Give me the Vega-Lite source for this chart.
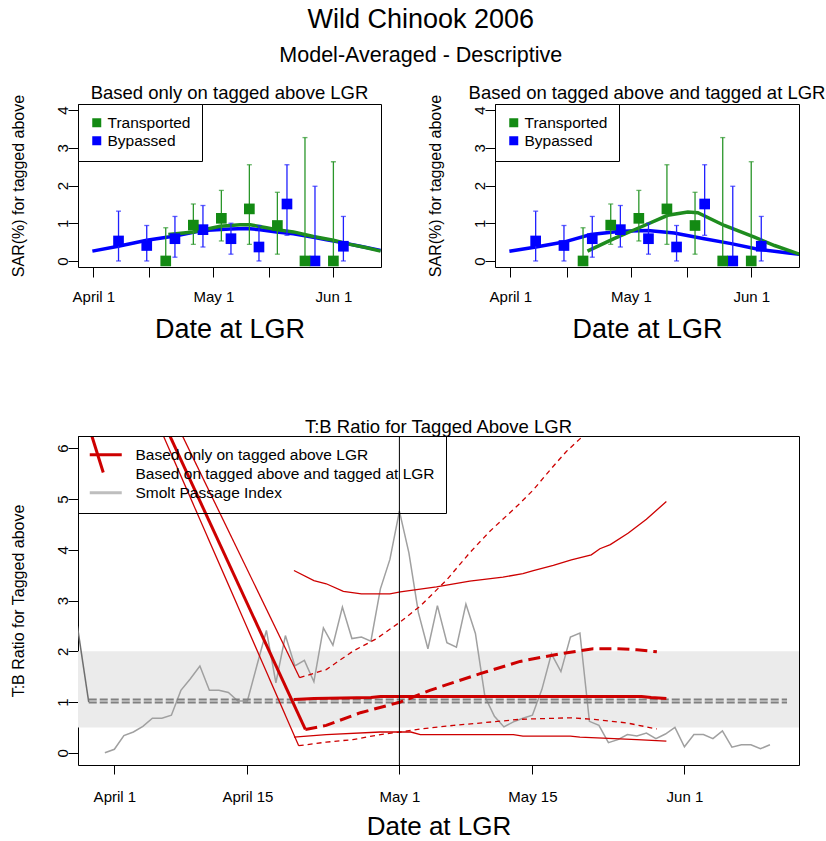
{
  "$schema": "https://vega.github.io/schema/vega-lite/v6.json",
  "background": "white",
  "padding": {"left": 9, "top": 5, "right": 0, "bottom": 0},
  "config": {
    "font": "Liberation Sans",
    "view": {"stroke": "black", "strokeWidth": 1},
    "axis": {"domain": false, "grid": false, "tickColor": "black", "labelColor": "black", "titleColor": "black", "labelFontSize": 15, "labelFont": "Liberation Sans", "titleFont": "Liberation Sans", "titleFontWeight": "normal", "tickSize": 10},
    "title": {"font": "Liberation Sans", "fontWeight": "normal", "color": "black"}
  },
  "title": {"text": "Wild Chinook 2006", "subtitle": "Model-Averaged - Descriptive", "fontSize": 27, "subtitleFontSize": 21.5, "subtitleFont": "Liberation Sans", "subtitleColor": "black", "anchor": "middle", "subtitlePadding": 11, "offset": 16, "dx": 3},
  "datasets": {
    "points": [
      {"group": "Bypassed", "day": 6.3, "est": 0.53, "lo": 0, "hi": 1.32},
      {"group": "Bypassed", "day": 13.35, "est": 0.41, "lo": 0, "hi": 0.94},
      {"group": "Bypassed", "day": 20.4, "est": 0.59, "lo": 0.10, "hi": 1.18},
      {"group": "Bypassed", "day": 27.4, "est": 0.83, "lo": 0.37, "hi": 1.47},
      {"group": "Bypassed", "day": 34.4, "est": 0.59, "lo": 0.18, "hi": 1.00},
      {"group": "Bypassed", "day": 41.4, "est": 0.37, "lo": 0, "hi": 0.94},
      {"group": "Bypassed", "day": 48.4, "est": 1.51, "lo": 0.68, "hi": 2.55},
      {"group": "Bypassed", "day": 55.4, "est": 0, "lo": 0, "hi": 1.98},
      {"group": "Bypassed", "day": 62.5, "est": 0.39, "lo": 0, "hi": 1.18},
      {"group": "Transported", "day": 18.1, "est": 0, "lo": 0, "hi": 0.88},
      {"group": "Transported", "day": 25.0, "est": 0.95, "lo": 0.44, "hi": 1.51},
      {"group": "Transported", "day": 32.0, "est": 1.13, "lo": 0.53, "hi": 1.87},
      {"group": "Transported", "day": 39.0, "est": 1.38, "lo": 0.44, "hi": 2.55},
      {"group": "Transported", "day": 46.0, "est": 0.94, "lo": 0.18, "hi": 1.82},
      {"group": "Transported", "day": 52.9, "est": 0, "lo": 0, "hi": 3.27},
      {"group": "Transported", "day": 60.0, "est": 0, "lo": 0, "hi": 2.63}
    ],
    "curves": [
      {"panel": "only", "group": "Bypassed", "day": -0.24, "val": 0.26},
      {"panel": "only", "group": "Bypassed", "day": 6.25, "val": 0.39},
      {"panel": "only", "group": "Bypassed", "day": 13.35, "val": 0.55},
      {"panel": "only", "group": "Bypassed", "day": 20.4, "val": 0.66},
      {"panel": "only", "group": "Bypassed", "day": 27.5, "val": 0.81},
      {"panel": "only", "group": "Bypassed", "day": 34.2, "val": 0.85},
      {"panel": "only", "group": "Bypassed", "day": 38.3, "val": 0.86},
      {"panel": "only", "group": "Bypassed", "day": 41.7, "val": 0.83},
      {"panel": "only", "group": "Bypassed", "day": 45.8, "val": 0.77},
      {"panel": "only", "group": "Bypassed", "day": 50.0, "val": 0.72},
      {"panel": "only", "group": "Bypassed", "day": 55.0, "val": 0.63},
      {"panel": "only", "group": "Bypassed", "day": 58.3, "val": 0.56},
      {"panel": "only", "group": "Bypassed", "day": 62.5, "val": 0.48},
      {"panel": "only", "group": "Bypassed", "day": 66.7, "val": 0.39},
      {"panel": "only", "group": "Bypassed", "day": 71.8, "val": 0.28},
      {"panel": "only", "group": "Transported", "day": 18.75, "val": 0.70},
      {"panel": "only", "group": "Transported", "day": 25.0, "val": 0.77},
      {"panel": "only", "group": "Transported", "day": 31.7, "val": 0.92},
      {"panel": "only", "group": "Transported", "day": 36.7, "val": 0.96},
      {"panel": "only", "group": "Transported", "day": 39.2, "val": 0.96},
      {"panel": "only", "group": "Transported", "day": 43.3, "val": 0.88},
      {"panel": "only", "group": "Transported", "day": 45.8, "val": 0.83},
      {"panel": "only", "group": "Transported", "day": 50.0, "val": 0.77},
      {"panel": "only", "group": "Transported", "day": 55.0, "val": 0.65},
      {"panel": "only", "group": "Transported", "day": 60.0, "val": 0.55},
      {"panel": "only", "group": "Transported", "day": 64.2, "val": 0.44},
      {"panel": "only", "group": "Transported", "day": 68.3, "val": 0.35},
      {"panel": "only", "group": "Transported", "day": 71.8, "val": 0.26},
      {"panel": "both", "group": "Bypassed", "day": -0.25, "val": 0.26},
      {"panel": "both", "group": "Bypassed", "day": 6.4, "val": 0.37},
      {"panel": "both", "group": "Bypassed", "day": 13.3, "val": 0.50},
      {"panel": "both", "group": "Bypassed", "day": 20.0, "val": 0.70},
      {"panel": "both", "group": "Bypassed", "day": 27.5, "val": 0.79},
      {"panel": "both", "group": "Bypassed", "day": 34.2, "val": 0.81},
      {"panel": "both", "group": "Bypassed", "day": 40.8, "val": 0.74},
      {"panel": "both", "group": "Bypassed", "day": 48.3, "val": 0.59},
      {"panel": "both", "group": "Bypassed", "day": 55.0, "val": 0.46},
      {"panel": "both", "group": "Bypassed", "day": 61.7, "val": 0.31},
      {"panel": "both", "group": "Bypassed", "day": 72.3, "val": 0.17},
      {"panel": "both", "group": "Transported", "day": 19.2, "val": 0.26},
      {"panel": "both", "group": "Transported", "day": 25.8, "val": 0.59},
      {"panel": "both", "group": "Transported", "day": 32.5, "val": 0.90},
      {"panel": "both", "group": "Transported", "day": 39.2, "val": 1.21},
      {"panel": "both", "group": "Transported", "day": 44.2, "val": 1.30},
      {"panel": "both", "group": "Transported", "day": 46.7, "val": 1.28},
      {"panel": "both", "group": "Transported", "day": 53.3, "val": 0.94},
      {"panel": "both", "group": "Transported", "day": 60.8, "val": 0.63},
      {"panel": "both", "group": "Transported", "day": 65.8, "val": 0.41},
      {"panel": "both", "group": "Transported", "day": 72.3, "val": 0.17}
    ],
    "smolt": [
      {"day": -1, "val": 0.0}, {"day": 0, "val": 0.07}, {"day": 1, "val": 0.34}, {"day": 2, "val": 0.41},
      {"day": 3, "val": 0.52}, {"day": 4, "val": 0.68}, {"day": 5, "val": 0.68}, {"day": 6, "val": 0.74},
      {"day": 7, "val": 1.23}, {"day": 8, "val": 1.46}, {"day": 9, "val": 1.71}, {"day": 10, "val": 1.23},
      {"day": 11, "val": 1.23}, {"day": 12, "val": 1.19}, {"day": 13, "val": 1.02}, {"day": 14, "val": 1.02},
      {"day": 15, "val": 1.72}, {"day": 16, "val": 2.41}, {"day": 17, "val": 1.38}, {"day": 18, "val": 2.31},
      {"day": 19, "val": 1.71}, {"day": 20, "val": 1.82}, {"day": 21, "val": 1.40}, {"day": 22, "val": 2.46},
      {"day": 23, "val": 2.12}, {"day": 24, "val": 2.87}, {"day": 25, "val": 2.25}, {"day": 26, "val": 2.28},
      {"day": 27, "val": 2.20}, {"day": 28, "val": 3.23}, {"day": 29, "val": 3.81}, {"day": 30, "val": 4.76},
      {"day": 31, "val": 3.94}, {"day": 32, "val": 2.76}, {"day": 33, "val": 2.05}, {"day": 34, "val": 2.90},
      {"day": 35, "val": 2.17}, {"day": 36, "val": 2.08}, {"day": 37, "val": 2.93}, {"day": 38, "val": 2.35},
      {"day": 39, "val": 1.11}, {"day": 40, "val": 0.72}, {"day": 41, "val": 0.51}, {"day": 42, "val": 0.61},
      {"day": 43, "val": 0.68}, {"day": 44, "val": 0.74}, {"day": 45, "val": 1.25}, {"day": 46, "val": 1.95},
      {"day": 47, "val": 1.60}, {"day": 48, "val": 2.28}, {"day": 49, "val": 2.36}, {"day": 50, "val": 0.62},
      {"day": 51, "val": 0.54}, {"day": 52, "val": 0.20}, {"day": 53, "val": 0.26}, {"day": 54, "val": 0.36},
      {"day": 55, "val": 0.33}, {"day": 56, "val": 0.39}, {"day": 57, "val": 0.28}, {"day": 58, "val": 0.37},
      {"day": 59, "val": 0.50}, {"day": 60, "val": 0.12}, {"day": 61, "val": 0.36}, {"day": 62, "val": 0.36},
      {"day": 63, "val": 0.28}, {"day": 64, "val": 0.43}, {"day": 65, "val": 0.11}, {"day": 66, "val": 0.16},
      {"day": 67, "val": 0.16}, {"day": 68, "val": 0.08}, {"day": 69, "val": 0.16}
    ],
    "ref": [
      {"series": "a", "day": -2.7, "val": 1.05}, {"series": "a", "day": 70.8, "val": 1.05},
      {"series": "b", "day": -2.7, "val": 0.99}, {"series": "b", "day": 70.8, "val": 0.99}
    ],
    "greysteep": [
      {"day": -4.3, "val": 3.0}, {"day": -2.7, "val": 1.0}
    ],
    "tb": [
      {"series": "steep_thick", "style": "thick", "day": 3.97, "val": 7.0},
      {"series": "steep_thick", "style": "thick", "day": 20.1, "val": 0.46},
      {"series": "legend_slash", "style": "thick", "day": -3.64, "val": 7.0},
      {"series": "legend_slash", "style": "thick", "day": -1.17, "val": 5.52},
      {"series": "above_est", "style": "thick", "day": 18.9, "val": 1.05},
      {"series": "above_est", "style": "thick", "day": 21.0, "val": 1.07},
      {"series": "above_est", "style": "thick", "day": 24.0, "val": 1.08},
      {"series": "above_est", "style": "thick", "day": 27.0, "val": 1.09},
      {"series": "above_est", "style": "thick", "day": 28.0, "val": 1.11},
      {"series": "above_est", "style": "thick", "day": 40.0, "val": 1.11},
      {"series": "above_est", "style": "thick", "day": 50.0, "val": 1.11},
      {"series": "above_est", "style": "thick", "day": 55.5, "val": 1.11},
      {"series": "above_est", "style": "thick", "day": 56.5, "val": 1.09},
      {"series": "above_est", "style": "thick", "day": 58.1, "val": 1.07},
      {"series": "steep_lo", "style": "thin", "day": 3.39, "val": 7.0},
      {"series": "steep_lo", "style": "thin", "day": 19.4, "val": 0.14},
      {"series": "steep_hi", "style": "thin", "day": 5.2, "val": 7.0},
      {"series": "steep_hi", "style": "thin", "day": 19.5, "val": 1.48},
      {"series": "above_hi", "style": "thin", "day": 18.9, "val": 3.59},
      {"series": "above_hi", "style": "thin", "day": 21.0, "val": 3.39},
      {"series": "above_hi", "style": "thin", "day": 22.3, "val": 3.33},
      {"series": "above_hi", "style": "thin", "day": 24.1, "val": 3.18},
      {"series": "above_hi", "style": "thin", "day": 26.0, "val": 3.13},
      {"series": "above_hi", "style": "thin", "day": 29.0, "val": 3.13},
      {"series": "above_hi", "style": "thin", "day": 30.1, "val": 3.17},
      {"series": "above_hi", "style": "thin", "day": 33.9, "val": 3.27},
      {"series": "above_hi", "style": "thin", "day": 37.4, "val": 3.38},
      {"series": "above_hi", "style": "thin", "day": 40.9, "val": 3.46},
      {"series": "above_hi", "style": "thin", "day": 43.0, "val": 3.53},
      {"series": "above_hi", "style": "thin", "day": 44.1, "val": 3.59},
      {"series": "above_hi", "style": "thin", "day": 46.2, "val": 3.69},
      {"series": "above_hi", "style": "thin", "day": 48.1, "val": 3.80},
      {"series": "above_hi", "style": "thin", "day": 50.2, "val": 3.90},
      {"series": "above_hi", "style": "thin", "day": 51.1, "val": 4.02},
      {"series": "above_hi", "style": "thin", "day": 52.2, "val": 4.10},
      {"series": "above_hi", "style": "thin", "day": 54.1, "val": 4.33},
      {"series": "above_hi", "style": "thin", "day": 56.0, "val": 4.60},
      {"series": "above_hi", "style": "thin", "day": 58.1, "val": 4.95},
      {"series": "above_lo", "style": "thin", "day": 18.9, "val": 0.31},
      {"series": "above_lo", "style": "thin", "day": 22.3, "val": 0.36},
      {"series": "above_lo", "style": "thin", "day": 28.0, "val": 0.41},
      {"series": "above_lo", "style": "thin", "day": 31.2, "val": 0.41},
      {"series": "above_lo", "style": "thin", "day": 32.2, "val": 0.36},
      {"series": "above_lo", "style": "thin", "day": 42.0, "val": 0.36},
      {"series": "above_lo", "style": "thin", "day": 43.0, "val": 0.33},
      {"series": "above_lo", "style": "thin", "day": 48.0, "val": 0.33},
      {"series": "above_lo", "style": "thin", "day": 49.0, "val": 0.31},
      {"series": "above_lo", "style": "thin", "day": 55.0, "val": 0.26},
      {"series": "above_lo", "style": "thin", "day": 58.1, "val": 0.23},
      {"series": "both_est", "style": "thickdash", "day": 20.1, "val": 0.46},
      {"series": "both_est", "style": "thickdash", "day": 22.3, "val": 0.54},
      {"series": "both_est", "style": "thickdash", "day": 25.9, "val": 0.79},
      {"series": "both_est", "style": "thickdash", "day": 30.1, "val": 1.0},
      {"series": "both_est", "style": "thickdash", "day": 33.2, "val": 1.23},
      {"series": "both_est", "style": "thickdash", "day": 38.5, "val": 1.56},
      {"series": "both_est", "style": "thickdash", "day": 42.7, "val": 1.80},
      {"series": "both_est", "style": "thickdash", "day": 46.9, "val": 1.95},
      {"series": "both_est", "style": "thickdash", "day": 50.4, "val": 2.05},
      {"series": "both_est", "style": "thickdash", "day": 52.9, "val": 2.05},
      {"series": "both_est", "style": "thickdash", "day": 55.0, "val": 2.03},
      {"series": "both_est", "style": "thickdash", "day": 57.1, "val": 1.99},
      {"series": "both_hi", "style": "thindash", "day": 19.5, "val": 1.48},
      {"series": "both_hi", "style": "thindash", "day": 22.3, "val": 1.64},
      {"series": "both_hi", "style": "thindash", "day": 25.1, "val": 2.0},
      {"series": "both_hi", "style": "thindash", "day": 27.6, "val": 2.25},
      {"series": "both_hi", "style": "thindash", "day": 30.1, "val": 2.58},
      {"series": "both_hi", "style": "thindash", "day": 32.2, "val": 2.89},
      {"series": "both_hi", "style": "thindash", "day": 35.0, "val": 3.41},
      {"series": "both_hi", "style": "thindash", "day": 37.4, "val": 3.94},
      {"series": "both_hi", "style": "thindash", "day": 39.5, "val": 4.36},
      {"series": "both_hi", "style": "thindash", "day": 42.5, "val": 4.88},
      {"series": "both_hi", "style": "thindash", "day": 44.1, "val": 5.18},
      {"series": "both_hi", "style": "thindash", "day": 45.9, "val": 5.58},
      {"series": "both_hi", "style": "thindash", "day": 47.6, "val": 5.94},
      {"series": "both_hi", "style": "thindash", "day": 49.5, "val": 6.27},
      {"series": "both_hi", "style": "thindash", "day": 50.5, "val": 6.5},
      {"series": "both_lo", "style": "thindash", "day": 19.4, "val": 0.14},
      {"series": "both_lo", "style": "thindash", "day": 22.3, "val": 0.21},
      {"series": "both_lo", "style": "thindash", "day": 25.1, "val": 0.26},
      {"series": "both_lo", "style": "thindash", "day": 28.0, "val": 0.36},
      {"series": "both_lo", "style": "thindash", "day": 30.1, "val": 0.41},
      {"series": "both_lo", "style": "thindash", "day": 32.2, "val": 0.47},
      {"series": "both_lo", "style": "thindash", "day": 35.7, "val": 0.54},
      {"series": "both_lo", "style": "thindash", "day": 38.1, "val": 0.58},
      {"series": "both_lo", "style": "thindash", "day": 42.7, "val": 0.66},
      {"series": "both_lo", "style": "thindash", "day": 48.0, "val": 0.69},
      {"series": "both_lo", "style": "thindash", "day": 50.4, "val": 0.66},
      {"series": "both_lo", "style": "thindash", "day": 53.9, "val": 0.59},
      {"series": "both_lo", "style": "thindash", "day": 57.1, "val": 0.47}
    ]
  },
  "spacing": 74,
  "resolve": {"scale": {"color": "independent"}, "legend": {"color": "independent"}},
  "vconcat": [
    {
      "spacing": 44,
      "resolve": {"scale": {"color": "independent"}, "legend": {"color": "independent"}},
      "hconcat": [
        {
          "width": 303, "height": 163,
          "title": {"text": "Based only on tagged above LGR", "fontSize": 18.5, "offset": -8},
          "layer": [
            {
              "data": {"name": "curves"},
              "transform": [{"filter": "datum.panel === 'only'"}],
              "mark": {"type": "line", "strokeWidth": 3.5, "clip": true},
              "encoding": {
                "x": {"field": "day", "type": "quantitative", "scale": {"domain": [-3.83, 71.9], "nice": false, "zero": false},
                  "axis": {"values": [0, 14, 30, 44, 60], "labelExpr": "datum.value === 0 ? 'April 1' : datum.value === 30 ? 'May 1' : datum.value === 60 ? 'Jun 1' : ''", "labelPadding": 12, "title": "Date at LGR", "titleFontSize": 27, "titlePadding": 12}},
                "y": {"field": "val", "type": "quantitative", "scale": {"domain": [-0.16, 4.16], "nice": false, "zero": false},
                  "axis": {"values": [0, 1, 2, 3, 4], "labelAngle": -90, "labelAlign": "center", "labelBaseline": "alphabetic", "labelPadding": 1, "title": "SAR(%) for tagged above", "titleFontSize": 16, "titlePadding": 29}},
                "detail": {"field": "group"},
                "color": {"condition": {"test": "datum.group === 'Transported'", "value": "#1E8C1E"}, "value": "#0000FF"}
              }
            },
            {
              "data": {"name": "points"},
              "mark": {"type": "rule", "strokeWidth": 1.3},
              "encoding": {
                "x": {"field": "day", "type": "quantitative", "scale": {"domain": [-3.83, 71.9], "nice": false, "zero": false}},
                "y": {"field": "lo", "type": "quantitative", "scale": {"domain": [-0.16, 4.16], "nice": false, "zero": false}},
                "y2": {"field": "hi"},
                "color": {"condition": {"test": "datum.group === 'Transported'", "value": "#2A962A"}, "value": "#2020FF"}
              }
            },
            {
              "data": {"name": "points"},
              "mark": {"type": "tick", "orient": "horizontal", "size": 5, "thickness": 1.3},
              "encoding": {
                "x": {"field": "day", "type": "quantitative", "scale": {"domain": [-3.83, 71.9], "nice": false, "zero": false}},
                "y": {"field": "hi", "type": "quantitative", "scale": {"domain": [-0.16, 4.16], "nice": false, "zero": false}},
                "color": {"condition": {"test": "datum.group === 'Transported'", "value": "#2A962A"}, "value": "#2020FF"}
              }
            },
            {
              "data": {"name": "points"},
              "mark": {"type": "tick", "orient": "horizontal", "size": 5, "thickness": 1.3},
              "encoding": {
                "x": {"field": "day", "type": "quantitative", "scale": {"domain": [-3.83, 71.9], "nice": false, "zero": false}},
                "y": {"field": "lo", "type": "quantitative", "scale": {"domain": [-0.16, 4.16], "nice": false, "zero": false}},
                "color": {"condition": {"test": "datum.group === 'Transported'", "value": "#2A962A"}, "value": "#2020FF"}
              }
            },
            {
              "data": {"name": "points"},
              "mark": {"type": "point", "shape": "square", "filled": true, "opacity": 1, "size": 114},
              "encoding": {
                "x": {"field": "day", "type": "quantitative", "scale": {"domain": [-3.83, 71.9], "nice": false, "zero": false}},
                "y": {"field": "est", "type": "quantitative", "scale": {"domain": [-0.16, 4.16], "nice": false, "zero": false}},
                "color": {"field": "group", "type": "nominal", "scale": {"domain": ["Transported", "Bypassed"], "range": ["#138A13", "#0000FF"]},
                  "legend": {"orient": "top-left", "title": null, "offset": 0, "padding": 11, "strokeColor": "black", "fillColor": "white", "symbolType": "square", "symbolSize": 81, "symbolStrokeWidth": 0, "labelFontSize": 15.5, "labelOffset": 3, "rowPadding": 1, "labelLimit": 300}}
              }
            }
          ]
        },
        {
          "width": 304, "height": 163,
          "title": {"text": "Based on tagged above and tagged at LGR", "fontSize": 18.5, "offset": -8},
          "layer": [
            {
              "data": {"name": "curves"},
              "transform": [{"filter": "datum.panel === 'both'"}],
              "mark": {"type": "line", "strokeWidth": 3.5, "clip": true},
              "encoding": {
                "x": {"field": "day", "type": "quantitative", "scale": {"domain": [-3.83, 71.9], "nice": false, "zero": false},
                  "axis": {"values": [0, 14, 30, 44, 60], "labelExpr": "datum.value === 0 ? 'April 1' : datum.value === 30 ? 'May 1' : datum.value === 60 ? 'Jun 1' : ''", "labelPadding": 12, "title": "Date at LGR", "titleFontSize": 27, "titlePadding": 12}},
                "y": {"field": "val", "type": "quantitative", "scale": {"domain": [-0.16, 4.16], "nice": false, "zero": false},
                  "axis": {"values": [0, 1, 2, 3, 4], "labelAngle": -90, "labelAlign": "center", "labelBaseline": "alphabetic", "labelPadding": 1, "title": "SAR(%) for tagged above", "titleFontSize": 16, "titlePadding": 29}},
                "detail": {"field": "group"},
                "color": {"condition": {"test": "datum.group === 'Transported'", "value": "#1E8C1E"}, "value": "#0000FF"}
              }
            },
            {
              "data": {"name": "points"},
              "mark": {"type": "rule", "strokeWidth": 1.3},
              "encoding": {
                "x": {"field": "day", "type": "quantitative", "scale": {"domain": [-3.83, 71.9], "nice": false, "zero": false}},
                "y": {"field": "lo", "type": "quantitative", "scale": {"domain": [-0.16, 4.16], "nice": false, "zero": false}},
                "y2": {"field": "hi"},
                "color": {"condition": {"test": "datum.group === 'Transported'", "value": "#2A962A"}, "value": "#2020FF"}
              }
            },
            {
              "data": {"name": "points"},
              "mark": {"type": "tick", "orient": "horizontal", "size": 5, "thickness": 1.3},
              "encoding": {
                "x": {"field": "day", "type": "quantitative", "scale": {"domain": [-3.83, 71.9], "nice": false, "zero": false}},
                "y": {"field": "hi", "type": "quantitative", "scale": {"domain": [-0.16, 4.16], "nice": false, "zero": false}},
                "color": {"condition": {"test": "datum.group === 'Transported'", "value": "#2A962A"}, "value": "#2020FF"}
              }
            },
            {
              "data": {"name": "points"},
              "mark": {"type": "tick", "orient": "horizontal", "size": 5, "thickness": 1.3},
              "encoding": {
                "x": {"field": "day", "type": "quantitative", "scale": {"domain": [-3.83, 71.9], "nice": false, "zero": false}},
                "y": {"field": "lo", "type": "quantitative", "scale": {"domain": [-0.16, 4.16], "nice": false, "zero": false}},
                "color": {"condition": {"test": "datum.group === 'Transported'", "value": "#2A962A"}, "value": "#2020FF"}
              }
            },
            {
              "data": {"name": "points"},
              "mark": {"type": "point", "shape": "square", "filled": true, "opacity": 1, "size": 114},
              "encoding": {
                "x": {"field": "day", "type": "quantitative", "scale": {"domain": [-3.83, 71.9], "nice": false, "zero": false}},
                "y": {"field": "est", "type": "quantitative", "scale": {"domain": [-0.16, 4.16], "nice": false, "zero": false}},
                "color": {"field": "group", "type": "nominal", "scale": {"domain": ["Transported", "Bypassed"], "range": ["#138A13", "#0000FF"]},
                  "legend": {"orient": "top-left", "title": null, "offset": 0, "padding": 11, "strokeColor": "black", "fillColor": "white", "symbolType": "square", "symbolSize": 81, "symbolStrokeWidth": 0, "labelFontSize": 15.5, "labelOffset": 3, "rowPadding": 1, "labelLimit": 300}}
              }
            }
          ]
        }
      ]
    },
    {
      "width": 721, "height": 329,
      "title": {"text": "T:B Ratio for Tagged Above LGR", "fontSize": 18.5, "offset": -1},
      "layer": [
        {
          "data": {"values": [{"val": 0.5, "val2": 2.0}]},
          "mark": {"type": "rect", "color": "#EBEBEB"},
          "encoding": {
            "y": {"field": "val", "type": "quantitative", "scale": {"domain": [-0.24, 6.24], "nice": false, "zero": false},
              "axis": {"values": [0, 1, 2, 3, 4, 5, 6], "labelAngle": -90, "labelAlign": "center", "labelBaseline": "alphabetic", "labelPadding": 1, "title": "T:B Ratio for Tagged above", "titleFontSize": 16, "titlePadding": 29}},
            "y2": {"field": "val2"}
          }
        },
        {
          "data": {"name": "smolt"},
          "mark": {"type": "line", "color": "#A0A0A0", "strokeWidth": 1.5, "clip": true},
          "encoding": {
            "x": {"field": "day", "type": "quantitative", "scale": {"domain": [-3.83, 72.06], "nice": false, "zero": false},
              "axis": {"values": [0, 14, 30, 44, 60], "labelExpr": "datum.value === 0 ? 'April 1' : datum.value === 14 ? 'April 15' : datum.value === 30 ? 'May 1' : datum.value === 44 ? 'May 15' : 'Jun 1'", "tickSize": 9, "labelPadding": 15, "title": "Date at LGR", "titleFontSize": 26, "titlePadding": 9}},
            "y": {"field": "val", "type": "quantitative", "scale": {"domain": [-0.24, 6.24], "nice": false, "zero": false}}
          }
        },
        {
          "data": {"name": "greysteep"},
          "mark": {"type": "line", "color": "#6E6E6E", "strokeWidth": 1.5, "clip": true},
          "encoding": {
            "x": {"field": "day", "type": "quantitative", "scale": {"domain": [-3.83, 72.06], "nice": false, "zero": false}},
            "y": {"field": "val", "type": "quantitative", "scale": {"domain": [-0.24, 6.24], "nice": false, "zero": false}}
          }
        },
        {
          "data": {"name": "ref"},
          "mark": {"type": "line", "color": "#808080", "strokeWidth": 2, "strokeDash": [8, 3], "clip": true},
          "encoding": {
            "x": {"field": "day", "type": "quantitative", "scale": {"domain": [-3.83, 72.06], "nice": false, "zero": false}},
            "y": {"field": "val", "type": "quantitative", "scale": {"domain": [-0.24, 6.24], "nice": false, "zero": false}},
            "detail": {"field": "series"}
          }
        },
        {
          "data": {"name": "tb"},
          "transform": [{"filter": "datum.style === 'thin'"}],
          "mark": {"type": "line", "color": "#CD0000", "strokeWidth": 1.3, "clip": true},
          "encoding": {
            "x": {"field": "day", "type": "quantitative", "scale": {"domain": [-3.83, 72.06], "nice": false, "zero": false}},
            "y": {"field": "val", "type": "quantitative", "scale": {"domain": [-0.24, 6.24], "nice": false, "zero": false}},
            "detail": {"field": "series"}
          }
        },
        {
          "data": {"name": "tb"},
          "transform": [{"filter": "datum.style === 'thindash'"}],
          "mark": {"type": "line", "color": "#CD0000", "strokeWidth": 1.3, "strokeDash": [5, 4], "clip": true},
          "encoding": {
            "x": {"field": "day", "type": "quantitative", "scale": {"domain": [-3.83, 72.06], "nice": false, "zero": false}},
            "y": {"field": "val", "type": "quantitative", "scale": {"domain": [-0.24, 6.24], "nice": false, "zero": false}},
            "detail": {"field": "series"}
          }
        },
        {
          "data": {"name": "tb"},
          "transform": [{"filter": "datum.style === 'thick'"}],
          "mark": {"type": "line", "color": "#CD0000", "strokeWidth": 3, "clip": true},
          "encoding": {
            "x": {"field": "day", "type": "quantitative", "scale": {"domain": [-3.83, 72.06], "nice": false, "zero": false}},
            "y": {"field": "val", "type": "quantitative", "scale": {"domain": [-0.24, 6.24], "nice": false, "zero": false}},
            "detail": {"field": "series"}
          }
        },
        {
          "data": {"name": "tb"},
          "transform": [{"filter": "datum.style === 'thickdash'"}],
          "mark": {"type": "line", "color": "#CD0000", "strokeWidth": 3, "strokeDash": [12, 6], "clip": true},
          "encoding": {
            "x": {"field": "day", "type": "quantitative", "scale": {"domain": [-3.83, 72.06], "nice": false, "zero": false}},
            "y": {"field": "val", "type": "quantitative", "scale": {"domain": [-0.24, 6.24], "nice": false, "zero": false}},
            "detail": {"field": "series"}
          }
        },
        {
          "data": {"values": [{"day": 30}]},
          "mark": {"type": "rule", "color": "black", "strokeWidth": 1},
          "encoding": {
            "x": {"field": "day", "type": "quantitative", "scale": {"domain": [-3.83, 72.06], "nice": false, "zero": false}}
          }
        },
        {
          "data": {"values": [{"lg": "Based only on tagged above LGR"}, {"lg": "Based on tagged above and tagged at LGR"}, {"lg": "Smolt Passage Index"}]},
          "mark": {"type": "line", "clip": true},
          "encoding": {
            "x": {"datum": -50, "type": "quantitative", "scale": {"domain": [-3.83, 72.06], "nice": false, "zero": false}},
            "y": {"datum": -50, "type": "quantitative", "scale": {"domain": [-0.24, 6.24], "nice": false, "zero": false}},
            "color": {"field": "lg", "type": "nominal", "scale": {"domain": ["Based only on tagged above LGR", "Based on tagged above and tagged at LGR", "Smolt Passage Index"], "range": ["#CD0000", "transparent", "#BEBEBE"]},
              "legend": {"orient": "top-left", "title": null, "offset": 0, "padding": 11, "strokeColor": "black", "symbolType": "M -1.4 0 L 5 0", "symbolSize": 100, "symbolStrokeWidth": 3, "symbolFillColor": "transparent", "labelFontSize": 15.5, "labelOffset": 31, "rowPadding": 2, "labelLimit": 400}}
          }
        }
      ]
    }
  ]
}
